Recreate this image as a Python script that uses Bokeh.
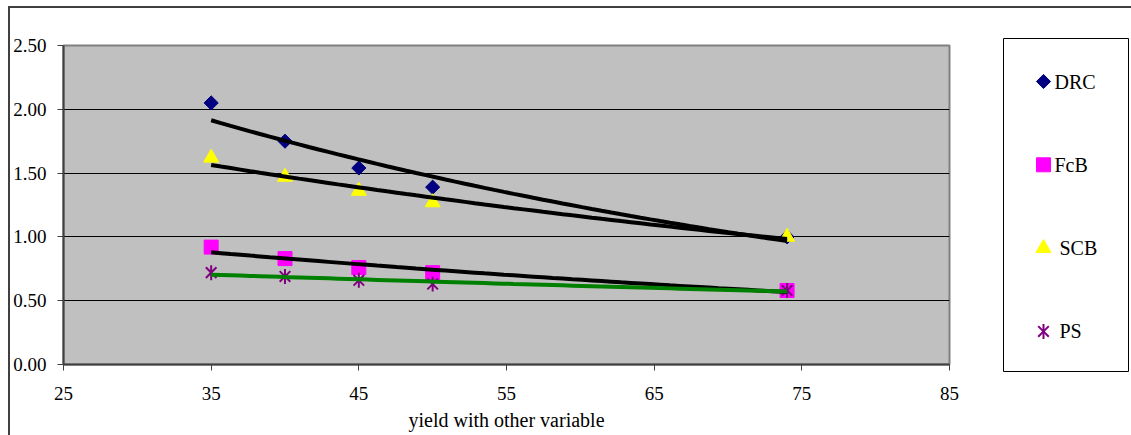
import numpy as np
from bokeh.plotting import figure
from bokeh.layouts import row
from bokeh.models import Range1d, FixedTicker, NumeralTickFormatter
from bokeh.core.properties import value
from bokeh.embed import file_html
from bokeh.resources import INLINE

# ---- data ----
x_vals = [35, 40, 45, 50, 74]
drc = [2.05, 1.75, 1.54, 1.39, 1.00]
fcb = [0.92, 0.83, 0.76, 0.72, 0.58]
scb = [1.62, 1.47, 1.36, 1.27, 1.00]
ps = [0.72, 0.69, 0.66, 0.63, 0.58]
series_names = ["DRC", "FcB", "SCB", "PS"]
x_ticks = [25, 35, 45, 55, 65, 75, 85]
y_ticks = [0.0, 0.5, 1.0, 1.5, 2.0, 2.5]
x_title = "yield with other variable"

FONT = "Liberation Serif"

p = figure(width=985, height=427, output_backend="svg", toolbar_location=None,
           x_range=Range1d(25, 85), y_range=Range1d(0, 2.5),
           min_border_left=53, min_border_right=46, min_border_top=37,
           min_border_bottom=71)
p.frame_align = False

p.background_fill_color = "#C0C0C0"
p.border_fill_color = "white"
p.outline_line_color = "#808080"
p.outline_line_width = 2

p.xgrid.grid_line_color = None
p.ygrid.grid_line_color = "black"
p.ygrid.grid_line_width = 1
p.ygrid.ticker = FixedTicker(ticks=y_ticks)

p.xaxis.ticker = FixedTicker(ticks=x_ticks)
p.yaxis.ticker = FixedTicker(ticks=y_ticks)
p.yaxis.formatter = NumeralTickFormatter(format="0.00")
for ax in (p.xaxis, p.yaxis):
    ax.axis_line_color = "#404040"
    ax.axis_line_width = 2
    ax.major_tick_line_color = "#404040"
    ax.major_tick_line_width = 1
    ax.major_tick_in = 0
    ax.major_tick_out = 6
    ax.minor_tick_line_color = None
    ax.major_label_text_font = FONT
    ax.major_label_text_font_size = "19px"
    ax.major_label_text_color = "black"
p.yaxis.major_label_standoff = 11
p.xaxis.major_label_standoff = 16
p.xaxis.axis_label = x_title
p.xaxis.axis_label_text_font = FONT
p.xaxis.axis_label_text_font_style = "normal"
p.xaxis.axis_label_text_font_size = "20px"
p.xaxis.axis_label_text_color = "black"
p.xaxis.axis_label_standoff = 6

# marker styles (shared by plot and legend)
styles = [
    dict(marker="square", angle=np.pi / 4, size=10, color="#000080"),
    dict(marker="square", size=14, color="#FF00FF"),
    dict(marker="triangle", size=15, color="#FFFF00"),
]
ps_x = dict(marker="x", size=15, line_color="#800080", line_width=2)
ps_dash = dict(marker="dash", size=15, angle=np.pi / 2, line_color="#800080", line_width=2)

for ys, st in zip((drc, fcb, scb), styles):
    p.scatter(x_vals, ys, **st)
p.scatter(x_vals, ps, **ps_x)
p.scatter(x_vals, ps, **ps_dash)

# exponential trend lines
xs = np.linspace(min(x_vals), max(x_vals), 60)
for series, col in ((drc, "black"), (scb, "black"), (fcb, "black"), (ps, "#008000")):
    b, a = np.polyfit(np.array(x_vals, float), np.log(np.array(series)), 1)
    p.line(xs, np.exp(a + b * xs), line_color=col, line_width=4)

# ---- legend as a separate small figure ----
lg = figure(width=136, height=427, output_backend="svg", toolbar_location=None,
            x_range=Range1d(0, 125), y_range=Range1d(333, 0),
            min_border_left=8, min_border_right=3, min_border_top=30,
            min_border_bottom=64)
lg.frame_align = False
lg.axis.visible = False
lg.grid.grid_line_color = None
lg.background_fill_color = "white"
lg.border_fill_color = "white"
lg.outline_line_color = "black"
lg.outline_line_width = 1

n = len(series_names)
ly = [43 + 83.3 * i for i in range(n)]
for i, st in enumerate(styles):
    lg.scatter([40], [ly[i]], **st)
lg.scatter([40], [ly[3]], **ps_x)
lg.scatter([40], [ly[3]], **ps_dash)
lx = [51, 51, 56, 56]
lg.text(lx, ly, text=series_names, text_font=value(FONT), text_font_size="20px",
        text_baseline="middle", text_align="left", text_color="black")

layout = row(p, lg, styles={"margin-left": "8px", "margin-top": "6px",
                            "border-left": "2px solid #404040",
                            "border-top": "2px solid #404040"})

open("out.html", "w").write(file_html(layout, INLINE))
